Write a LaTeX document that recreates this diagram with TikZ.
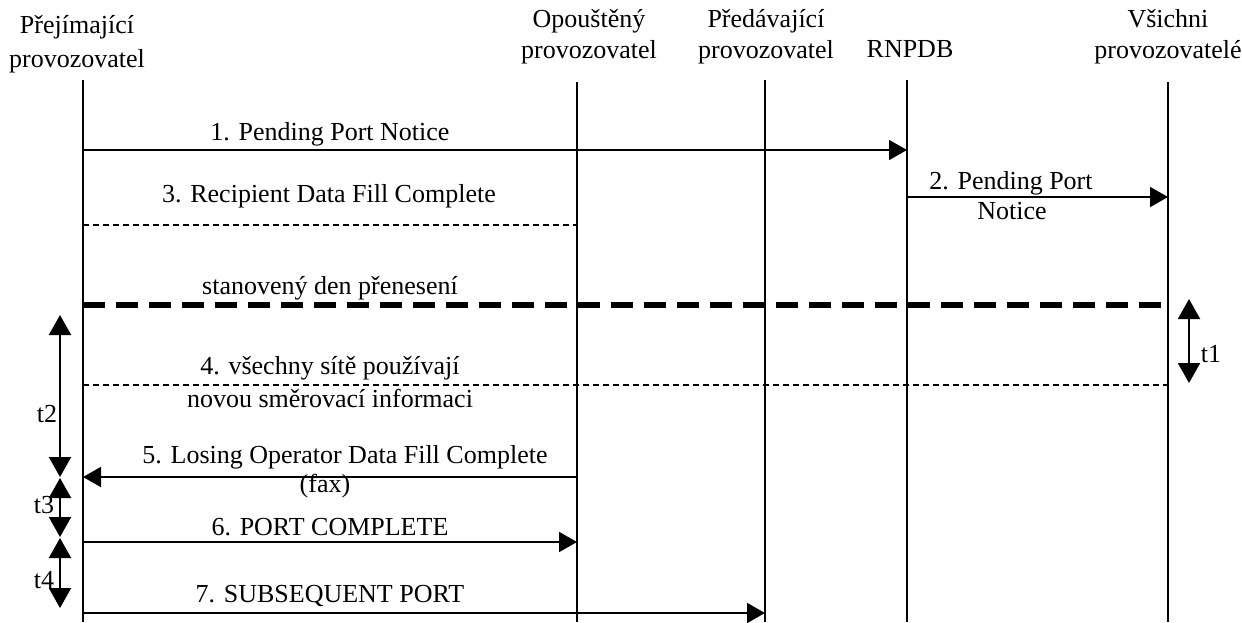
\documentclass[tikz,border=0pt]{standalone}
\usepackage{fontspec}
\setmainfont{Liberation Serif}
\usetikzlibrary{arrows.meta}
\usetikzlibrary{calc}

\tikzset{
  party/.style={align=center, anchor=base, inner sep=0pt, font=\fontsize{13}{15.5}\selectfont},
  lbl/.style={anchor=base, inner sep=0pt},
  lifeline/.style={line width=1pt},
  msg/.style={line width=0.9pt, -{Triangle[length=9pt, width=10pt]}},
  note/.style={line width=0.7pt, dash pattern=on 3pt off 2pt},
  bigdash/.style={line width=3.2pt, dash pattern=on 11pt off 5.5pt},
  timer/.style={line width=1pt, {Triangle[length=10pt, width=11pt]}-{Triangle[length=10pt, width=11pt]}}
}

\begin{document}
\begin{tikzpicture}[x=0.5pt, y=-0.5pt, font=\fontsize{13}{15.5}\selectfont]
      \useasboundingbox (0,0) rectangle (1242,622);

      % ucastnici
      \node[party, font=\fontsize{13}{17}\selectfont] (rcv) at (77, 67) {Přejímající\\provozovatel};
      \node[party] (los) at (589, 58) {Opouštěný\\provozovatel};
      \node[party] (don) at (766, 58) {Předávající\\provozovatel};
      \node[party] (db) at (910, 57) {RNPDB};
      \node[party] (all) at (1168, 58) {Všichni\\provozovatelé};

      \coordinate (rcv top) at (83, 80);   \coordinate (rcv bot) at (83, 622);
      \coordinate (los top) at (577, 82);  \coordinate (los bot) at (577, 622);
      \coordinate (don top) at (765, 80);  \coordinate (don bot) at (765, 622);
      \coordinate (db top) at (907, 80);   \coordinate (db bot) at (907, 622);
      \coordinate (all top) at (1168, 82); \coordinate (all bot) at (1168, 622);

      \draw[lifeline] (rcv top) -- (rcv bot);
      \draw[lifeline] (los top) -- (los bot);
      \draw[lifeline] (don top) -- (don bot);
      \draw[lifeline] (db top) -- (db bot);
      \draw[lifeline] (all top) -- (all bot);

      % radky zprav
      \coordinate (r1) at (0, 150);
      \coordinate (r2) at (0, 197);
      \coordinate (r3) at (0, 225);
      \coordinate (rd) at (0, 305);
      \coordinate (r4) at (0, 385);
      \coordinate (r5) at (0, 477);
      \coordinate (r6) at (0, 542);
      \coordinate (r7) at (0, 613);

      \draw[msg] (rcv top |- r1) -- (db top |- r1);
      \node[lbl] (m1) at (330, 140) {1. Pending Port Notice};

      \draw[msg] (db top |- r2) -- (all top |- r2);
      \node[lbl] (m2a) at (1011, 189) {2. Pending Port};
      \node[lbl] (m2b) at (1012, 219) {Notice};

      \draw[note] (rcv top |- r3) -- (los top |- r3);
      \node[lbl] (m3) at (329, 202) {3. Recipient Data Fill Complete};

      \draw[bigdash] (rcv top |- rd) -- (all top |- rd);
      \node[lbl] (day) at (330, 294) {stanovený den přenesení};

      \draw[note] (rcv top |- r4) -- (all top |- r4);
      \node[lbl] (m4a) at (330, 374) {4. všechny sítě používají};
      \node[lbl] (m4b) at (330, 407) {novou směrovací informaci};

      \draw[msg] (los top |- r5) -- (rcv top |- r5);
      \node[lbl] (m5a) at (345, 463) {5. Losing Operator Data Fill Complete};
      \node[lbl] (m5b) at (325, 492) {(fax)};

      \draw[msg] (rcv top |- r6) -- (los top |- r6);
      \node[lbl] (m6) at (330, 535) {6. PORT COMPLETE};

      \draw[msg] (rcv top |- r7) -- (don top |- r7);
      \node[lbl] (m7) at (330, 602) {7. SUBSEQUENT PORT};

      % casovace
      \coordinate (t1a) at (1189, 299); \coordinate (t1b) at (1189, 383);
      \coordinate (t2a) at (60, 315);   \coordinate (t2b) at (60, 477);
      \coordinate (t3a) at (60, 478);   \coordinate (t3b) at (60, 537);
      \coordinate (t4a) at (60, 538);   \coordinate (t4b) at (60, 608);

      \draw[timer] (t1a) -- (t1b);
      \draw[timer] (t2a) -- (t2b);
      \draw[timer] (t3a) -- (t3b);
      \draw[timer] (t4a) -- (t4b);

      \node[lbl] (t1) at (1211, 362) {t1};
      \node[lbl] (t2) at (47, 422) {t2};
      \node[lbl] (t3) at (44, 513) {t3};
      \node[lbl] (t4) at (44, 588) {t4};
\end{tikzpicture}
\end{document}
